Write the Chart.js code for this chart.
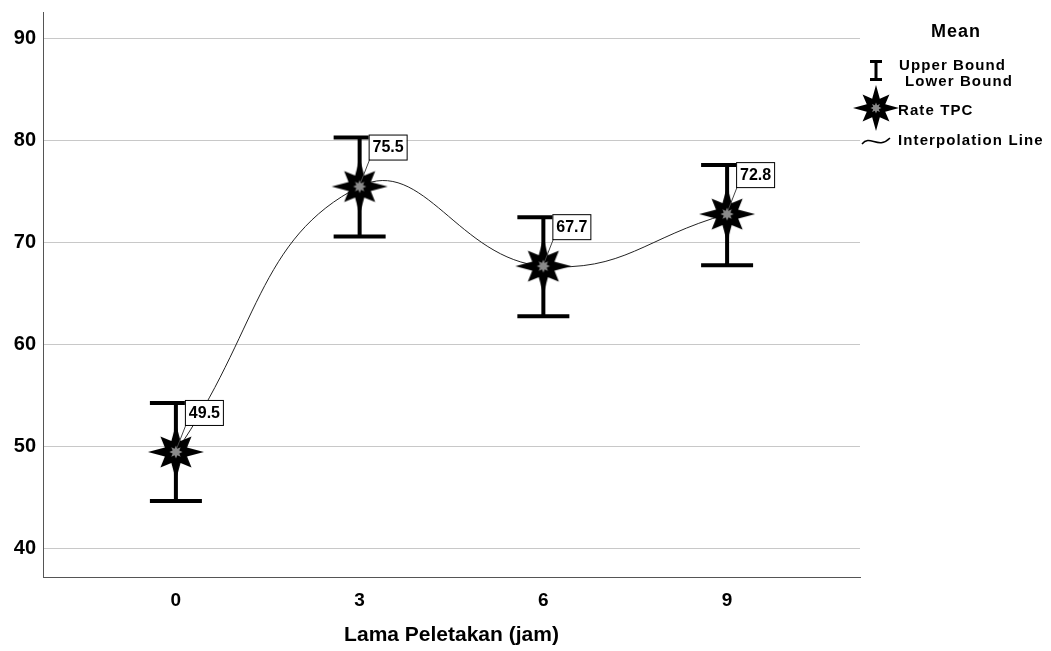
<!DOCTYPE html>
<html>
<head>
<meta charset="utf-8">
<script src="https://cdn.jsdelivr.net/npm/chart.js@4.4.1/dist/chart.umd.min.js"></script>
<style>
  body { margin: 0; background: #fff; }
  #wrap { width: 1051px; height: 651px; position: relative; }
</style>
</head>
<body>
<div id="wrap"><canvas id="chart"></canvas></div>
<script>
// datos
var hours = [0, 3, 6, 9];
var meanTPC = [49.5, 75.5, 67.7, 72.8];
var upperBound = [54.3, 80.3, 72.5, 77.6];
var lowerBound = [44.7, 70.6, 62.8, 67.8];
var hourTicks = [0, 3, 6, 9];
var yTicks = [40, 50, 60, 70, 80, 90];
var legendTitle = 'Mean';
var legendItems = ['Upper Bound', 'Lower Bound', 'Rate TPC', 'Interpolation Line'];
var xTitle = 'Lama Peletakan (jam)';

var FONT = '"Liberation Sans", Arial, sans-serif';

// estrella de 8 puntas
function drawStar(ctx, cx, cy, rAxis, rDiag, rIn) {
  ctx.save();
  ctx.beginPath();
  for (var i = 0; i < 16; i++) {
    var ang = -Math.PI / 2 + i * Math.PI / 8;
    var r = (i % 2 === 1) ? rIn : ((i / 2) % 2 === 0 ? rAxis : rDiag);
    var x = cx + r * Math.cos(ang), y = cy + r * Math.sin(ang);
    if (i === 0) ctx.moveTo(x, y); else ctx.lineTo(x, y);
  }
  ctx.closePath();
  ctx.fillStyle = '#000';
  ctx.fill();
  // centro gris
  ctx.beginPath();
  for (var j = 0; j < 16; j++) {
    var a2 = -Math.PI / 2 + j * Math.PI / 8;
    var r2 = (j % 2 === 1) ? rIn * 0.3 : rIn * 0.55;
    var x2 = cx + r2 * Math.cos(a2), y2 = cy + r2 * Math.sin(a2);
    if (j === 0) ctx.moveTo(x2, y2); else ctx.lineTo(x2, y2);
  }
  ctx.closePath();
  ctx.fillStyle = '#8a8a8a';
  ctx.fill();
  ctx.restore();
}

function makeStar(size, rAxis, rDiag, rIn) {
  var c = document.createElement('canvas');
  c.width = size; c.height = size;
  drawStar(c.getContext('2d'), size / 2, size / 2, rAxis, rDiag, rIn);
  return c;
}

var starImg = makeStar(60, 28, 22, 12);

// barras de error
var errorBarsPlugin = {
  id: 'errorBars',
  beforeDatasetsDraw: function (chart) {
    var ctx = chart.ctx, xs = chart.scales.x, ys = chart.scales.y;
    ctx.save();
    ctx.strokeStyle = '#000';
    ctx.lineWidth = 4;
    for (var i = 0; i < hours.length; i++) {
      var x = xs.getPixelForValue(hours[i]);
      var yt = ys.getPixelForValue(upperBound[i]);
      var yb = ys.getPixelForValue(lowerBound[i]);
      ctx.beginPath();
      ctx.moveTo(x, yt); ctx.lineTo(x, yb);
      ctx.moveTo(x - 26, yt); ctx.lineTo(x + 26, yt);
      ctx.moveTo(x - 26, yb); ctx.lineTo(x + 26, yb);
      ctx.stroke();
    }
    ctx.restore();
  }
};

// etiquetas con valor
var valueLabelsPlugin = {
  id: 'valueLabels',
  afterDatasetsDraw: function (chart) {
    var ctx = chart.ctx, xs = chart.scales.x, ys = chart.scales.y;
    ctx.save();
    ctx.font = 'bold 16px ' + FONT;
    for (var i = 0; i < hours.length; i++) {
      var px = xs.getPixelForValue(hours[i]);
      var py = ys.getPixelForValue(meanTPC[i]);
      var bx = px + 9, by = py - 52, bw = 38, bh = 25;
      ctx.strokeStyle = '#444';
      ctx.lineWidth = 1;
      ctx.beginPath();
      ctx.moveTo(px + 1, py - 4);
      ctx.lineTo(bx + 1, by + bh);
      ctx.stroke();
      ctx.fillStyle = '#fff';
      ctx.fillRect(bx, by, bw, bh);
      ctx.strokeStyle = '#000';
      ctx.strokeRect(bx + 0.5, by + 0.5, bw, bh);
      ctx.fillStyle = '#000';
      ctx.textAlign = 'center';
      ctx.textBaseline = 'middle';
      ctx.fillText(meanTPC[i].toFixed(1), bx + bw / 2 + 0.5, by + bh / 2 + 1);
    }
    ctx.restore();
  }
};

// leyenda a la derecha
var sideLegendPlugin = {
  id: 'sideLegend',
  afterDraw: function (chart) {
    var ctx = chart.ctx;
    ctx.save();
    ctx.textBaseline = 'middle';
    ctx.textAlign = 'left';

    // icono barra de error
    ctx.strokeStyle = '#000';
    ctx.lineWidth = 3;
    ctx.beginPath();
    ctx.moveTo(876, 61); ctx.lineTo(876, 80);
    ctx.moveTo(870, 61.5); ctx.lineTo(882, 61.5);
    ctx.moveTo(870, 79.5); ctx.lineTo(882, 79.5);
    ctx.stroke();

    // icono estrella
    drawStar(ctx, 876, 108, 23, 19, 10);

    // icono linea
    ctx.strokeStyle = '#000';
    ctx.lineWidth = 1.5;
    ctx.beginPath();
    ctx.moveTo(862, 144);
    ctx.bezierCurveTo(870, 134, 878, 150, 890, 138);
    ctx.stroke();

    ctx.fillStyle = '#000';
    ctx.font = 'bold 18px ' + FONT;
    ctx.letterSpacing = '1px';
    ctx.fillText(legendTitle, 931, 32);

    ctx.font = 'bold 15px ' + FONT;
    ctx.letterSpacing = '1.1px';
    ctx.fillText(legendItems[0], 899, 66);
    ctx.fillText(legendItems[1], 905, 82);
    ctx.fillText(legendItems[2], 898, 111);
    ctx.fillText(legendItems[3], 898, 141);
    ctx.restore();
  }
};

var ctx = document.getElementById('chart').getContext('2d');
var chart = new Chart(ctx, {
  type: 'line',
  data: {
    datasets: [{
      label: legendItems[2],
      data: hours.map(function (h, i) { return { x: h, y: meanTPC[i] }; }),
      borderColor: '#222',
      borderWidth: 1,
      tension: 0.45,
      pointStyle: starImg,
      pointRadius: 28,
      fill: false
    }]
  },
  options: {
    responsive: true,
    maintainAspectRatio: false,
    animation: false,
    layout: { autoPadding: false, padding: { top: 12, right: 191, left: 0, bottom: 0 } },
    plugins: { legend: { display: false }, tooltip: { enabled: false } },
    scales: {
      x: {
        type: 'linear',
        min: -2.17,
        max: 11.17,
        afterBuildTicks: function (scale) {
          scale.ticks = hourTicks.map(function (v) { return { value: v }; });
        },
        afterFit: function (scale) {
          scale.height = 74;
          scale.paddingLeft = 0;
          scale.paddingRight = 0;
        },
        grid: { display: false, drawTicks: false },
        border: { display: true, color: '#555', width: 1 },
        ticks: {
          color: '#000',
          padding: 12,
          maxRotation: 0,
          autoSkip: false,
          font: { family: FONT, size: 19, weight: 'bold' }
        },
        title: {
          display: true,
          text: xTitle,
          color: '#000',
          padding: { top: 0, bottom: 3 },
          font: { family: FONT, size: 21, weight: 'bold' }
        }
      },
      y: {
        min: 37.25,
        max: 92.6,
        afterBuildTicks: function (scale) {
          scale.ticks = yTicks.map(function (v) { return { value: v }; });
        },
        afterFit: function (scale) {
          scale.width = 43;
          scale.paddingTop = 0;
          scale.paddingBottom = 0;
        },
        grid: { color: '#c8c8c8', lineWidth: 1, drawTicks: false },
        border: { display: true, color: '#555', width: 1 },
        ticks: {
          color: '#000',
          padding: 7,
          font: { family: FONT, size: 20, weight: 'bold' }
        }
      }
    }
  },
  plugins: [errorBarsPlugin, valueLabelsPlugin, sideLegendPlugin]
});
</script>
</body>
</html>
